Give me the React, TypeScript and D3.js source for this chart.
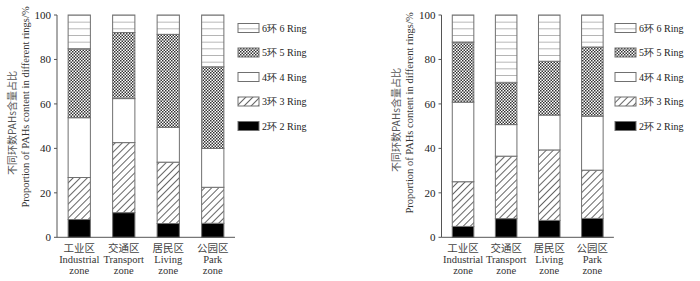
import React from "react";
import * as d3 from "d3";

const categoriesCN = ["工业区", "交通区", "居民区", "公园区"];
const categoriesEN = ["Industrial", "Transport", "Living", "Park"];
const zoneWord = "zone";
const ringKeys = ["r2", "r3", "r4", "r5", "r6"];
const ringLabels = ["2环 2 Ring", "3环 3 Ring", "4环 4 Ring", "5环 5 Ring", "6环 6 Ring"];
const yTicks = [0, 20, 40, 60, 80, 100];
const titleCN = "不同环数PAHs含量占比";
const titleEN = "Proportion of PAHs content in different rings/%";

// Left panel (%)
const leftRing2 = [8.0, 11.1, 6.2, 6.3];
const leftRing3 = [18.9, 31.5, 27.6, 16.2];
const leftRing4 = [26.9, 19.8, 15.7, 17.5];
const leftRing5 = [31.0, 29.7, 41.8, 36.7];
const leftRing6 = [15.2, 7.9, 8.7, 23.3];

// Right panel (%)
const rightRing2 = [4.9, 8.4, 7.6, 8.5];
const rightRing3 = [20.1, 28.1, 31.7, 21.7];
const rightRing4 = [35.8, 14.2, 15.7, 24.3];
const rightRing5 = [27.0, 18.8, 24.2, 31.1];
const rightRing6 = [12.2, 30.5, 20.8, 14.4];

const fills: Record<string, string> = {
  r2: "#000",
  r3: "url(#hatch3)",
  r4: "#fff",
  r5: "url(#checker5)",
  r6: "url(#lines6)",
};

const serif = "'Liberation Serif', 'DejaVu Serif', serif";
const cjk = "'Noto Sans CJK SC', sans-serif";

type PanelProps = {
  axisX: number;
  band: number;
  data: number[][];
  titleX1: number;
  titleX2: number;
  titleY1: number;
  titleY2: number;
  legendX: number;
};

const yTop = 15;
const yBottom = 237.3;

function Panel({ axisX, band, data, titleX1, titleX2, titleY1, titleY2, legendX }: PanelProps) {
  const rows = categoriesCN.map((c, i) => {
    const o: any = { cat: c };
    ringKeys.forEach((k, j) => (o[k] = data[j][i]));
    return o;
  });
  const x = d3
    .scaleBand<string>()
    .domain(categoriesCN)
    .range([axisX, axisX + band * categoriesCN.length])
    .paddingInner(0.5)
    .paddingOuter(0.25);
  const y = d3.scaleLinear().domain([0, 100]).range([yBottom, yTop]);
  const stacked = d3.stack<any>().keys(ringKeys)(rows);
  const axisColor = "#555";
  const legendOrder = [4, 3, 2, 1, 0];
  return (
    <g>
      {stacked.map((s, si) => (
        <g key={si}>
          {s.map((d: any, i: number) => (
            <rect
              key={i}
              x={x(d.data.cat)}
              y={y(d[1])}
              width={x.bandwidth()}
              height={y(d[0]) - y(d[1])}
              fill={fills[ringKeys[si]]}
              stroke="#707070"
              strokeWidth={1}
            />
          ))}
        </g>
      ))}
      <line x1={axisX} x2={axisX} y1={yTop} y2={yBottom} stroke={axisColor} strokeWidth={1} />
      <line x1={axisX} x2={axisX + band * 4} y1={yBottom} y2={yBottom} stroke={axisColor} strokeWidth={1} />
      {yTicks.map((t) => (
        <g key={t}>
          <line x1={axisX - 3} x2={axisX} y1={y(t)} y2={y(t)} stroke={axisColor} />
          <text
            x={axisX - 6}
            y={y(t)}
            dy="0.35em"
            textAnchor="end"
            fontFamily={serif}
            fontSize={11}
            fill="#222"
          >
            {t}
          </text>
        </g>
      ))}
      {categoriesCN.map((c, i) => {
        const cx = (x(c) as number) + x.bandwidth() / 2;
        return (
          <g key={c} fill="#333">
            <text x={cx} y={252} textAnchor="middle" fontFamily={cjk} fontSize={10.5} fill="#444">
              {c}
            </text>
            <text x={cx} y={263} textAnchor="middle" fontFamily={serif} fontSize={10.5}>
              {categoriesEN[i]}
            </text>
            <text x={cx} y={274} textAnchor="middle" fontFamily={serif} fontSize={10.5}>
              {zoneWord}
            </text>
          </g>
        );
      })}
      <text
        transform={`translate(${titleX1},${titleY1}) rotate(-90)`}
        textAnchor="middle"
        dy="0.35em"
        fontFamily={cjk}
        fontSize={10}
        fill="#555"
      >
        {titleCN}
      </text>
      <text
        transform={`translate(${titleX2},${titleY2}) rotate(-90)`}
        textAnchor="middle"
        dy="0.35em"
        fontFamily={serif}
        fontSize={10.5}
        fill="#333"
      >
        {titleEN}
      </text>
      {legendOrder.map((ri, k) => {
        const cy = 28 + k * 24.5;
        return (
          <g key={ri}>
            <rect
              x={legendX}
              y={cy - 4.5}
              width={21}
              height={9}
              fill={fills[ringKeys[ri]]}
              stroke="#707070"
            />
            <text x={legendX + 24} y={cy} dy="0.35em" fontFamily={serif} fontSize={10} fill="#222">
              {ringLabels[ri]}
            </text>
          </g>
        );
      })}
    </g>
  );
}

export default function App() {
  return (
    <svg width={700} height={281} style={{ position: "absolute", left: 0, top: 0, background: "#fff" }}>
      <defs>
        <pattern id="lines6" patternUnits="userSpaceOnUse" x={0} y={yTop} width={10} height={6.67}>
          <rect width={10} height={6.67} fill="#fff" />
          <line x1={0} x2={10} y1={0} y2={0} stroke="#888" strokeWidth={1.2} />
        </pattern>
        <pattern
          id="hatch3"
          patternUnits="userSpaceOnUse"
          width={5}
          height={5}
          patternTransform="rotate(45)"
        >
          <rect width={5} height={5} fill="#fff" />
          <line x1={2.5} x2={2.5} y1={0} y2={5} stroke="#555" strokeWidth={0.9} />
        </pattern>
        <pattern id="checker5" patternUnits="userSpaceOnUse" width={3} height={3}>
          <rect width={3} height={3} fill="#fff" />
          <rect x={0} y={0} width={1.5} height={1.5} fill="#333" />
          <rect x={1.5} y={1.5} width={1.5} height={1.5} fill="#333" />
        </pattern>
      </defs>
      <Panel
        axisX={57}
        band={44.5}
        data={[leftRing2, leftRing3, leftRing4, leftRing5, leftRing6]}
        titleX1={12.5}
        titleX2={25}
        titleY1={123}
        titleY2={107}
        legendX={238}
      />
      <Panel
        axisX={441.5}
        band={43.1}
        data={[rightRing2, rightRing3, rightRing4, rightRing5, rightRing6]}
        titleX1={396}
        titleX2={409}
        titleY1={120}
        titleY2={113}
        legendX={615}
      />
    </svg>
  );
}
